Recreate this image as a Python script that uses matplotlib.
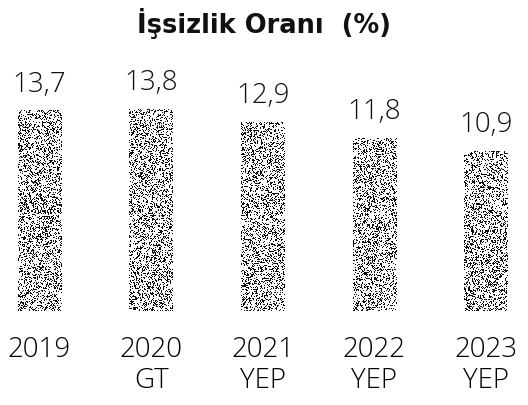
import numpy as np
import matplotlib
matplotlib.use('Agg')
import matplotlib.pyplot as plt

# data
years = ['2019', '2020', '2021', '2022', '2023']
notes = ['', 'GT', 'YEP', 'YEP', 'YEP']
rates = [13.7, 13.8, 12.9, 11.8, 10.9]
rate_labels = ['13,7', '13,8', '12,9', '11,8', '10,9']

plt.rcParams['font.family'] = ['Open Sans', 'DejaVu Sans']

fig = plt.figure(figsize=(5.28, 4.05), dpi=100)
ax = fig.add_axes([0, 0.232, 1, 0.768])

px_x = 111.6   # pixels per category
px_y = 14.6    # pixels per unit value
bar_w = 0.39

# stippled bars (random dot texture is only a fill style)
rng = np.random.default_rng(7)
xs = np.arange(len(rates))
for x, v in zip(xs, rates):
    h = int(round(v * px_y))
    w = int(round(bar_w * px_x))
    tex = (rng.random((h, w)) < 0.3).astype(float)
    ax.imshow(tex, extent=[x - bar_w / 2, x + bar_w / 2, 0, v], aspect='auto',
              cmap='gray_r', vmin=0, vmax=1.05, interpolation='nearest')

for x, v, lab in zip(xs, rates, rate_labels):
    ax.annotate(lab, (x, v), xytext=(0, 14), textcoords='offset points',
                ha='center', va='baseline', fontsize=20, fontweight='light',
                color='#111111')

ax.set_xlim(-39.5 / px_x, (528 - 39.5) / px_x)
ax.set_ylim(0, 311 / px_y)
ax.set_xticks(xs)
ax.set_xticklabels([y + ('\n' + n if n else '') for y, n in zip(years, notes)],
                   fontsize=20, fontweight='light', linespacing=1.15, va='top')
ax.tick_params(axis='x', length=0, pad=18)
ax.set_yticks([])
for s in ax.spines.values():
    s.set_visible(False)

fig.text(0.5, 1 - 33 / 405, 'İşsizlik Oranı  (%)', ha='center', va='baseline',
         fontsize=18.5, fontweight='bold', color='#111111',
         family=['DejaVu Sans'])

fig.savefig('out.png', dpi=100)
